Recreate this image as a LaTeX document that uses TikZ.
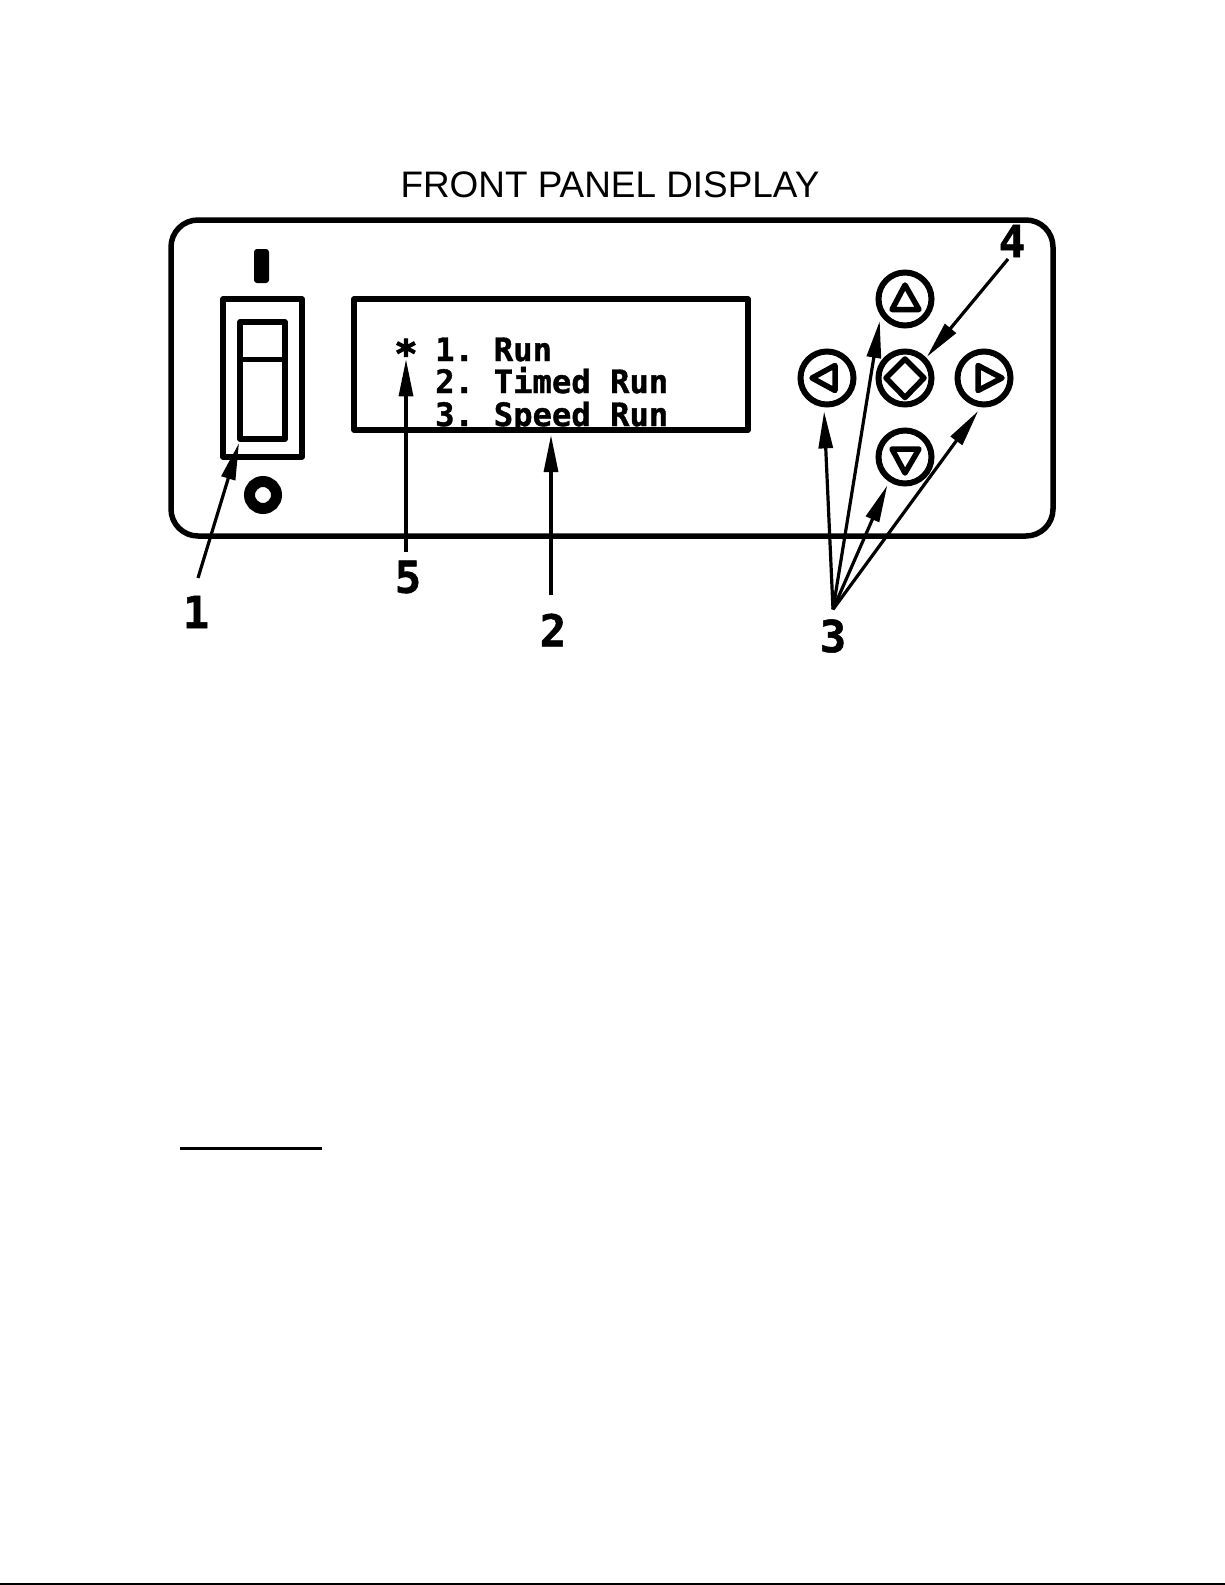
\documentclass[tikz,border=0pt]{standalone}
\usepackage{fontspec}
\setmainfont{Liberation Sans}
\newfontfamily\cadfont[BoldFeatures={FakeBold=1.2}]{DejaVu Sans Mono}
\newfontfamily\starfont[BoldFeatures={FakeBold=3}]{DejaVu Sans Mono}
\usetikzlibrary{arrows.meta}
\tikzset{
  panelline/.style={draw=black,line width=5.5pt,line join=round},
  btn/.style={circle,draw=black,line width=6pt,minimum size=53pt,inner sep=0pt,outer sep=7pt},
  glyph/.style={draw=black,line width=5.5pt,line join=round},
  callout/.style={draw=black,line width=3.2pt,-{Triangle[length=37pt,width=14pt]}},
  lab/.style={font=\cadfont\bfseries\fontsize{44}{44}\selectfont,inner sep=0pt},
  row/.style={font=\cadfont\bfseries\fontsize{32.2}{32}\selectfont,inner sep=0pt,anchor=base west},
}
\begin{document}
\begin{tikzpicture}[x=1pt,y=-1pt]
\useasboundingbox (0,0) rectangle (1225,1585);
\fill[white] (0,0) rectangle (1225,1585);

\node[font=\fontsize{36.9}{36}\selectfont,inner sep=0pt] (title) at (610,185) {FRONT PANEL DISPLAY};

% panel
\draw[panelline,rounded corners=27pt] (171,220) rectangle (1053,536);

% power switch
\node[rectangle,fill=black,draw=none,rounded corners=3pt,minimum width=15pt,minimum height=34pt,inner sep=0pt] (onmark) at (261.5,266) {};
\draw[panelline] (223,299) rectangle (302,457);
\node[rectangle,draw=black,line width=5.5pt,line join=round,minimum width=45pt,minimum height=117pt,inner sep=0pt,outer sep=0pt] (rocker) at (262.5,380.5) {};
\draw[line width=5pt] (240,359) -- (285,359);
\node[circle,draw=black,line width=11pt,minimum size=27pt,inner sep=0pt] (offmark) at (263,495) {};

% display
\node[rectangle,draw=black,line width=5.5pt,line join=round,minimum width=394pt,minimum height=131pt,inner sep=0pt,outer sep=5pt] (display) at (551,364.5) {};
\node[font=\starfont\bfseries\fontsize{38}{38}\selectfont,inner sep=0pt] (star) at (406,353) {*};
\node[row] (row1) at (435,361) {1.\hspace{-6pt} Run};
\node[row] (row2) at (435,393) {2.\hspace{-6pt} Timed Run};
\node[row] (row3) at (435,426) {3.\hspace{-6pt} Speed Run};

% buttons
\node[btn] (bU) at (905,299) {};
\node[btn,outer sep=4pt] (bC) at (905,378) {};
\node[btn] (bL) at (827,378) {};
\node[btn] (bR) at (984,378) {};
\node[btn] (bD) at (905,457) {};
\draw[glyph] (905,285) -- (892,309.5) -- (919,309.5) -- cycle;
\draw[glyph] (812,378) -- (835,365.5) -- (835,390.5) -- cycle;
\draw[glyph] (1002,378) -- (978,365.5) -- (978,390.5) -- cycle;
\draw[glyph] (905,473) -- (892,449) -- (919,449) -- cycle;
\draw[glyph] (905,359) -- (924,378) -- (905,397.5) -- (886,378) -- cycle;

% numerals
\node[lab,outer sep=18pt] (n1) at (196,612) {1};
\node[lab,outer sep=19pt] (n2) at (553,630) {2};
\node[lab,outer sep=10pt] (n3) at (833,636) {3};
\node[lab,outer sep=2pt] (n4) at (1012,241) {4};
\node[lab,outer sep=9pt] (n5) at (408,577) {5};

% callouts
\draw[callout] ([xshift=2pt]n1.north) -- ([shift={(-1pt,-4pt)}]rocker.south west);
\draw[callout] ([xshift=-2pt]n2.north) -- (display.south);
\draw[callout] (n3.north) -- (bL.265);
\draw[callout] (n3.north) -- (bU.221);
\draw[callout] (n3.north) -- (bD.238);
\draw[callout] (n3.north) -- (bR.260);
\draw[callout] ([xshift=-4pt]n4.south) -- (bC.44);
\draw[callout] ([xshift=-2pt]n5.north) -- ([yshift=8pt]star.south);

% page rules
\coordinate (ruleA) at (180,1148);
\coordinate (ruleB) at (322,1148);
\draw[line width=3pt] (ruleA) -- (ruleB);
\coordinate (pageL) at (0,1584);
\coordinate (pageR) at (1225,1584);
\draw[line width=2.5pt] (pageL) -- (pageR);
\end{tikzpicture}
\end{document}
